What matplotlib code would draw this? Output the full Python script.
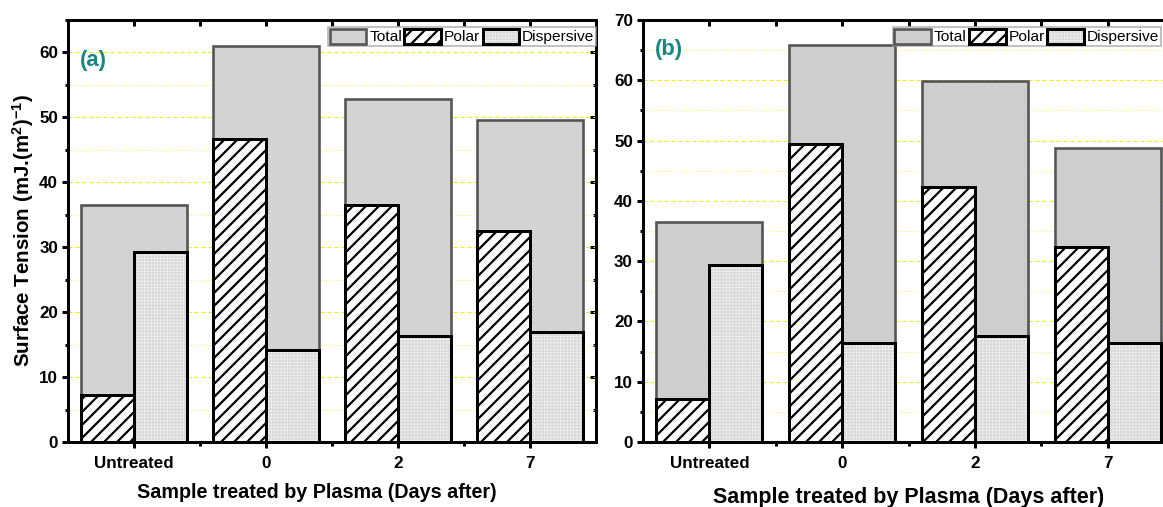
import matplotlib
matplotlib.use("Agg")
import matplotlib.pyplot as plt
import numpy as np
from matplotlib.legend_handler import HandlerTuple, HandlerPatch
from matplotlib.ticker import MultipleLocator, FixedLocator

# ---- data -------------------------------------------------------------
categories = ["Untreated", "0", "2", "7"]

total_a = [36.5, 61.0, 52.9, 49.6]
polar_a = [7.2, 46.7, 36.5, 32.5]
disp_a = [29.3, 14.2, 16.3, 17.0]

total_b = [36.5, 65.8, 59.9, 48.8]
polar_b = [7.2, 49.4, 42.3, 32.4]
disp_b = [29.3, 16.4, 17.6, 16.4]

series_labels = ["Total", "Polar", "Dispersive"]

# ---- style ------------------------------------------------------------
DPI = 78
PX = 72.0 / DPI  # points per pixel
FINE_HATCH = 0.5 * PX

plt.rcParams["font.family"] = ["Liberation Sans", "DejaVu Sans"]
plt.rcParams["mathtext.fontset"] = "custom"
plt.rcParams["mathtext.rm"] = "Liberation Sans"
plt.rcParams["mathtext.bf"] = "Liberation Sans:bold"
plt.rcParams["mathtext.default"] = "bf"
plt.rcParams["hatch.linewidth"] = 2.2 * PX

W, H = 1163, 507
fig = plt.figure(figsize=(W / DPI, H / DPI), dpi=DPI)

ax_a = fig.add_axes([68 / W, 65 / H, 528 / W, 422 / H])
ax_b = fig.add_axes([643 / W, 65 / H, 531 / W, 422 / H])

SPINE = 3.0 * PX


class FineHatchHandler(HandlerPatch):
    """Legend patch that keeps the thin grid texture of the dispersive bars."""

    def create_artists(self, legend, orig_handle, xdescent, ydescent,
                       width, height, fontsize, trans):
        arts = super().create_artists(legend, orig_handle, xdescent, ydescent,
                                      width, height, fontsize, trans)
        for a in arts:
            if hasattr(a, "set_hatch_linewidth"):
                a.set_hatch_linewidth(FINE_HATCH)
        return arts


def draw_panel(ax, total, polar, disp, ymax, tag, tag_y, tick_px, label_px,
               xlabelpad, xlabel_x, total_color, legend_right):
    x = np.arange(len(categories))

    tot = ax.bar(x, total, width=0.8, color=total_color, edgecolor="#545454",
                 linewidth=2.6 * PX, zorder=2)
    pol = ax.bar(x, polar, width=-0.4, align="edge", color="white",
                 edgecolor="black", hatch="//", linewidth=3 * PX, zorder=3)
    with plt.rc_context({"hatch.color": "#f6f6f6", "hatch.linewidth": FINE_HATCH}):
        tex = ax.bar(x, disp, width=0.4, align="edge", color="#d8d8d8",
                     hatch="++++", linewidth=0, zorder=3)
        for p in tex:
            if hasattr(p, "set_hatch_linewidth"):
                p.set_hatch_linewidth(FINE_HATCH)
    out = ax.bar(x, disp, width=0.4, align="edge", fill=False,
                 edgecolor="black", linewidth=3 * PX, zorder=4)

    ax.set_xlim(-0.5, 3.5)
    ax.set_ylim(0, ymax)

    # grid
    ax.yaxis.set_major_locator(MultipleLocator(10))
    ax.yaxis.set_minor_locator(MultipleLocator(5))
    ax.grid(True, axis="y", which="major", color="#eeee00",
            linestyle=(0, (4, 3)), linewidth=1.0 * PX, zorder=0)
    ax.grid(True, axis="y", which="minor", color="#f2f270",
            linestyle=(0, (1, 1.5)), linewidth=1.0 * PX, zorder=0)
    ax.set_axisbelow(True)

    ax.set_xticks(x)
    ax.set_xticklabels(categories)
    ax.xaxis.set_minor_locator(FixedLocator([0.5, 1.5, 2.5]))

    for s in ax.spines.values():
        s.set_linewidth(SPINE)
        s.set_zorder(6)

    ax.tick_params(axis="both", which="major", direction="out", length=6 * PX,
                   width=SPINE, labelsize=tick_px * PX, pad=4 * PX)
    ax.tick_params(axis="both", which="minor", direction="out", length=3.5 * PX,
                   width=SPINE)
    ax.tick_params(axis="x", which="major", pad=8 * PX)
    for lab in ax.get_xticklabels() + ax.get_yticklabels():
        lab.set_fontweight("bold")

    # inward ticks on top and right
    top = ax.secondary_xaxis("top")
    top.set_xticks([0, 0.5, 1, 1.5, 2, 2.5, 3])
    top.tick_params(direction="in", length=6 * PX, width=SPINE, labeltop=False)
    top.spines["top"].set_linewidth(SPINE)
    right = ax.secondary_yaxis("right")
    right.yaxis.set_major_locator(MultipleLocator(10))
    right.yaxis.set_minor_locator(MultipleLocator(5))
    right.tick_params(which="major", direction="in", length=6 * PX, width=SPINE,
                      labelright=False)
    right.tick_params(which="minor", direction="in", length=3.5 * PX, width=SPINE)
    right.spines["right"].set_linewidth(SPINE)

    ax.set_xlabel("Sample treated by Plasma (Days after)", fontsize=label_px * PX,
                  fontweight="bold", labelpad=xlabelpad)
    ax.xaxis.label.set_x(xlabel_x)

    ax.text(0.022, tag_y, tag, transform=ax.transAxes, color="#1a8585",
            fontsize=22 * PX, fontweight="bold", va="center", ha="left")

    tex_handle = tex.patches[0]
    leg = ax.legend(handles=[tot, pol, (tex_handle, out)], labels=series_labels,
                    handler_map={tuple: HandlerTuple(ndivide=1),
                                 tex_handle: FineHatchHandler()},
                    ncol=3, loc="upper right",
                    bbox_to_anchor=(legend_right, 1 - 7 / 422),
                    fontsize=15.5 * PX, frameon=True, fancybox=False,
                    borderpad=0.1, handlelength=2.35, handleheight=1.15,
                    handletextpad=0.2, columnspacing=0.15, borderaxespad=0)
    leg.get_frame().set_edgecolor("#9a9a9a")
    leg.get_frame().set_linewidth(1.5 * PX)
    leg.set_zorder(7)
    return ax


draw_panel(ax_a, total_a, polar_a, disp_a, 65, "(a)", 0.905, 17, 19.8,
           12 * PX, 0.472, "#d3d3d3", 1.0)
draw_panel(ax_b, total_b, polar_b, disp_b, 70, "(b)", 0.93, 17, 21.5,
           16 * PX, 0.5, "#cecece", 0.975)

ax_a.set_ylabel("Surface Tension (mJ.(m$^{2}$)$^{-1}$)", fontsize=20.5 * PX,
                fontweight="bold", labelpad=3 * PX)

fig.savefig("out.png", dpi=DPI)
